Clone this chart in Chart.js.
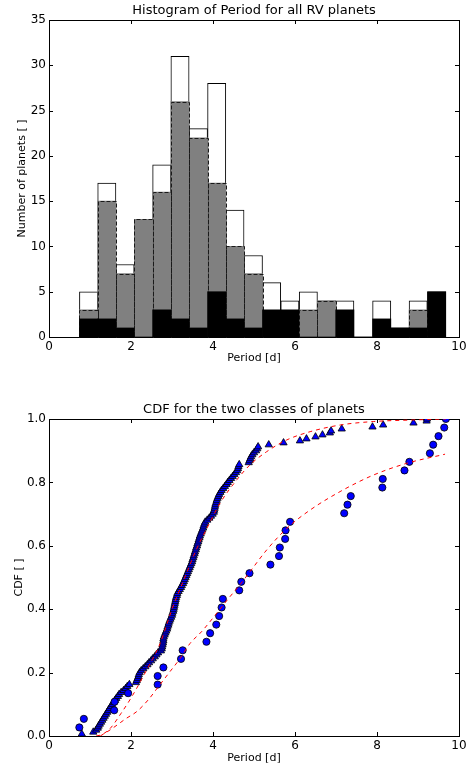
<!DOCTYPE html>
<html><head><meta charset="utf-8">
<script src="https://cdn.jsdelivr.net/npm/chart.js@4/dist/chart.umd.min.js"></script>
<style>
html,body{margin:0;padding:0;background:#fff;}
.wrap{position:absolute;left:0;width:475px;}
</style></head><body>
<div class="wrap" style="top:0;height:380px;"><canvas id="c1" width="475" height="380"></canvas></div>
<div class="wrap" style="top:390px;height:379px;"><canvas id="c2" width="475" height="379"></canvas></div>
<script>
// ---------- DATA ----------
const binEdges = [0.74,1.19,1.63,2.08,2.53,2.97,3.42,3.87,4.31,4.76,5.21,5.65,6.10,6.55,6.99,7.44,7.89,8.34,8.78,9.23,9.68];
const totalCounts  = [5,17,8,13,19,31,23,28,14,9,6,4,5,4,4,0,4,1,4,5];
const classACounts = [3,15,7,13,16,26,22,17,10,7,0,0,3,4,0,0,0,0,3,0];
const classBCounts = [2,2,1,0,3,2,1,5,2,1,3,3,0,0,3,0,2,1,1,5];

const periodTicks = [0,2,4,6,8,10];
const countTicks = [0,5,10,15,20,25,30,35];
const cdfTicks = [0.0,0.2,0.4,0.6,0.8,1.0];

// sorted periods of class A (triangles)
const classAPeriods = [0.80,1.08,1.15,1.19,1.21,1.24,1.27,1.30,1.33,1.36,
 1.39,1.42,1.45,1.48,1.51,1.54,1.57,1.61,1.64,1.68,
 1.71,1.76,1.82,1.87,1.91,1.96,2.12,2.14,2.16,2.18,
 2.19,2.21,2.25,2.30,2.35,2.40,2.44,2.49,2.53,2.58,
 2.62,2.66,2.73,2.75,2.76,2.77,2.78,2.79,2.79,2.80,
 2.82,2.84,2.86,2.88,2.89,2.91,2.92,2.94,2.96,2.98,
 3.00,3.01,3.03,3.04,3.05,3.06,3.07,3.08,3.09,3.10,
 3.12,3.13,3.16,3.19,3.22,3.24,3.27,3.29,3.31,3.33,
 3.35,3.37,3.39,3.41,3.43,3.45,3.47,3.49,3.50,3.52,
 3.53,3.55,3.56,3.58,3.59,3.61,3.62,3.64,3.65,3.67,
 3.68,3.70,3.72,3.74,3.76,3.77,3.79,3.81,3.86,3.91,
 3.95,3.99,4.02,4.03,4.04,4.05,4.06,4.08,4.09,4.11,
 4.13,4.15,4.18,4.21,4.25,4.29,4.33,4.36,4.40,4.44,
 4.48,4.52,4.56,4.59,4.61,4.62,4.64,4.87,4.89,4.91,
 4.93,4.96,5.00,5.05,5.08,5.10,5.36,5.72,6.12,6.28,
 6.50,6.67,6.85,6.88,7.14,7.89,8.15,8.89,9.21,9.22];

// sorted periods of class B (circles)
const classBPeriods = [0.74,0.85,1.59,1.60,1.93,2.65,2.65,2.79,3.22,3.26,
 3.84,3.93,4.08,4.15,4.21,4.24,4.64,4.69,4.89,5.40,
 5.61,5.63,5.76,5.77,5.88,7.20,7.28,7.36,8.13,8.14,
 8.67,8.79,9.29,9.37,9.50,9.64,9.68];

// fitted model CDFs (red dashed)
const fitAPeriod = [1.15,1.30,1.50,1.75,2.02,2.38,2.71,2.91,3.00,3.28,3.60,3.85,4.17,4.58,4.90,5.31,5.80,6.37,7.10,7.91,8.89,9.68];
const fitACdf    = [0.0,0.005,0.025,0.07,0.124,0.208,0.292,0.366,0.40,0.49,0.59,0.655,0.734,0.808,0.855,0.897,0.934,0.96,0.981,0.992,0.997,1.0];
const fitBPeriod = [1.25,1.50,1.89,2.14,2.42,2.67,2.95,3.20,3.44,3.72,4.09,4.41,4.62,4.90,5.31,5.80,6.37,7.10,7.91,8.72,9.66];
const fitBCdf    = [0.0,0.02,0.056,0.077,0.114,0.156,0.203,0.245,0.292,0.329,0.387,0.439,0.471,0.518,0.587,0.655,0.713,0.771,0.823,0.860,0.889];

// ---------- HELPERS ----------
Chart.defaults.font.family = 'DejaVu Sans';
Chart.defaults.color = '#000';

const binCenters = totalCounts.map((_, i) => (binEdges[i] + binEdges[i+1]) / 2);
const histPoints = arr => arr.map((v, i) => ({x: binCenters[i], y: v}));

const inwardTicks = {
  id: 'inwardTicks',
  afterDraw(chart) {
    const {ctx, chartArea: a, scales: {x, y}} = chart;
    ctx.save();
    ctx.strokeStyle = '#000'; ctx.lineWidth = 1;
    ctx.beginPath();
    x.ticks.forEach(t => {
      const p = Math.round(x.getPixelForValue(t.value)) + 0.5;
      ctx.moveTo(p, a.bottom); ctx.lineTo(p, a.bottom - 4);
      ctx.moveTo(p, a.top); ctx.lineTo(p, a.top + 4);
    });
    y.ticks.forEach(t => {
      const p = Math.round(y.getPixelForValue(t.value)) + 0.5;
      ctx.moveTo(a.left, p); ctx.lineTo(a.left + 4, p);
      ctx.moveTo(a.right, p); ctx.lineTo(a.right - 4, p);
    });
    ctx.stroke();
    ctx.restore();
  }
};

const dashedOutline = {
  id: 'dashedOutline',
  afterDatasetDraw(chart, args) {
    const ds = chart.data.datasets[args.index];
    if (!ds.dashedEdge) return;
    const ctx = chart.ctx;
    ctx.save();
    ctx.strokeStyle = '#1a1a1a'; ctx.lineWidth = 1; ctx.setLineDash([4, 2]);
    args.meta.data.forEach(el => {
      const {x, y, base, width} = el.getProps(['x', 'y', 'base', 'width'], true);
      if (Math.abs(base - y) < 0.5) return;
      const l = Math.round(x - width / 2) + 0.5, r = Math.round(x + width / 2) + 0.5;
      const t = Math.round(y) + 0.5, b = Math.round(base) + 0.5;
      ctx.beginPath();
      ctx.moveTo(l, b); ctx.lineTo(l, t); ctx.lineTo(r, t); ctx.lineTo(r, b);
      ctx.stroke();
    });
    ctx.restore();
  }
};

function makeScales(o) {
  const border = {display: true, color: '#000', width: 1};
  const grid = {display: false, drawTicks: false};
  return {
    x: {type: 'linear', position: 'bottom', min: 0, max: 10, offset: false,
        afterBuildTicks: s => { s.ticks = periodTicks.map(v => ({value: v})); },
        ticks: {autoSkip: false, maxRotation: 0, padding: o.xTickPad, font: {size: 12}, color: '#000'},
        grid, border,
        title: {display: true, text: 'Period [d]', color: '#000', font: {size: 11}, padding: {top: 0, bottom: o.xTitlePad}},
        afterFit: s => { s.height = o.bottomH; }},
    x2: {type: 'linear', position: 'top', min: 0, max: 10, offset: false,
         ticks: {display: false}, grid, border,
         title: {display: true, text: o.title, color: '#000', font: {size: 13}, padding: {top: o.titlePad, bottom: 0}},
         afterFit: s => { s.height = o.topH; }},
    y: {type: 'linear', position: 'left', min: o.yMin, max: o.yMax,
        afterBuildTicks: s => { s.ticks = o.yTicks.map(v => ({value: v})); },
        ticks: {padding: 3, font: {size: 12}, color: '#000', callback: o.yFmt},
        grid, border,
        title: {display: true, text: o.yTitle, color: '#000', font: {size: 11}, padding: {top: o.yTitlePad, bottom: 0}},
        afterFit: s => { s.width = 49; }},
    y2: {type: 'linear', position: 'right', min: o.yMin, max: o.yMax,
         ticks: {display: false}, grid, border,
         afterFit: s => { s.width = 16; }}
  };
}

const common = {
  responsive: false, animation: false,
  layout: {padding: 0},
  plugins: {legend: {display: false}, tooltip: {enabled: false}, title: {display: false}}
};

// ---------- HISTOGRAM ----------
new Chart(document.getElementById('c1'), {
  type: 'bar',
  data: {datasets: [
    {label: 'class B', data: histPoints(classBCounts), backgroundColor: '#000000', borderWidth: 0,
     grouped: false, categoryPercentage: 1, barPercentage: 1, xAxisID: 'x', yAxisID: 'y'},
    {label: 'class A', data: histPoints(classACounts), backgroundColor: '#808080', borderWidth: 0, dashedEdge: true,
     grouped: false, categoryPercentage: 1, barPercentage: 1, xAxisID: 'x', yAxisID: 'y'},
    {label: 'all', data: histPoints(totalCounts), backgroundColor: '#ffffff', borderColor: '#000000', borderWidth: 1,
     borderSkipped: false, grouped: false, categoryPercentage: 1, barPercentage: 1, xAxisID: 'x', yAxisID: 'y'}
  ]},
  options: Object.assign({}, common, {
    scales: makeScales({title: 'Histogram of Period for all RV planets', titlePad: 3, topH: 20, bottomH: 43,
      xTickPad: 3, xTitlePad: 15, yMin: 0, yMax: 35, yTicks: countTicks, yFmt: v => String(v),
      yTitle: 'Number of planets [ ]', yTitlePad: 16})
  }),
  plugins: [inwardTicks, dashedOutline]
});

// ---------- CDF ----------
const pts = (xs, ys) => xs.map((v, i) => ({x: v, y: ys[i]}));
const cdfPts = xs => xs.map((v, i) => ({x: v, y: (i + 1) / xs.length}));

new Chart(document.getElementById('c2'), {
  type: 'scatter',
  data: {datasets: [
    {label: 'fit A', data: pts(fitAPeriod, fitACdf), showLine: true, borderColor: '#ff0000', borderWidth: 1,
     borderDash: [4, 4], pointRadius: 0, cubicInterpolationMode: 'monotone', clip: 0},
    {label: 'fit B', data: pts(fitBPeriod, fitBCdf), showLine: true, borderColor: '#ff0000', borderWidth: 1,
     borderDash: [4, 4], pointRadius: 0, cubicInterpolationMode: 'monotone', clip: 0},
    {label: 'class B', data: cdfPts(classBPeriods), pointStyle: 'circle', pointRadius: 3.6,
     backgroundColor: '#0000ff', borderColor: '#000000', borderWidth: 0.8, clip: 0},
    {label: 'class A', data: cdfPts(classAPeriods), pointStyle: 'triangle', pointRadius: 4.2,
     backgroundColor: '#0000ff', borderColor: '#000000', borderWidth: 0.8, clip: 0}
  ]},
  options: Object.assign({}, common, {
    scales: makeScales({title: 'CDF for the two classes of planets', titlePad: 12, topH: 29, bottomH: 33,
      xTickPad: 3, xTitlePad: 4, yMin: 0, yMax: 1, yTicks: cdfTicks, yFmt: v => Number(v).toFixed(1),
      yTitle: 'CDF [ ]', yTitlePad: 13})
  }),
  plugins: [inwardTicks]
});
</script>
</body></html>
